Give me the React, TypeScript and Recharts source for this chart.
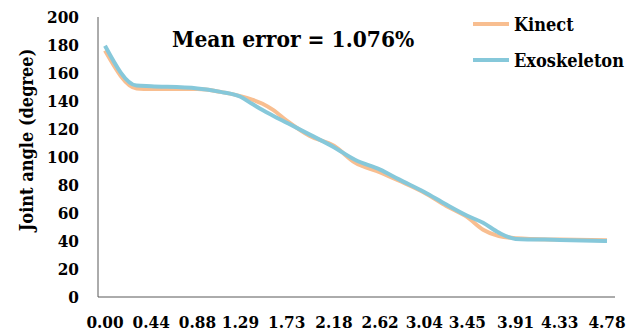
import { LineChart, Line, XAxis, YAxis } from "recharts";

const times = [0, 0.3, 0.44, 0.88, 1.1, 1.29, 1.4, 1.5, 1.6, 1.73, 1.95, 2.18, 2.38, 2.62, 2.8, 3.04, 3.25, 3.45, 3.6, 3.75, 3.91, 4.33, 4.78];
const kinect = [176, 149, 148.5, 148.5, 146.5, 143.5, 141, 138, 133.6, 126, 115, 108, 96, 89, 83, 74.5, 65, 57, 48, 43.5, 42, 41, 40.5];
const exoskeleton = [179.5, 151, 150.5, 149, 146.5, 143, 138, 133.5, 129.5, 124.5, 116, 107, 98, 91, 84, 75, 66, 58, 53, 46, 41.5, 40.8, 40];

const xTicks = [0, 0.44, 0.88, 1.29, 1.73, 2.18, 2.62, 3.04, 3.45, 3.91, 4.33, 4.78];
const yTicks = [0, 20, 40, 60, 80, 100, 120, 140, 160, 180, 200];

const series = [
  { key: "kinect", name: "Kinect", color: "#F8BE90" },
  { key: "exo", name: "Exoskeleton", color: "#86C8DA" },
];

const data = times.map((t, i) => ({ t, kinect: kinect[i], exo: exoskeleton[i] }));

const FONT = "DejaVu Serif Condensed, DejaVu Serif, serif";
const tickStyle = { fontSize: 17, fontWeight: 700, fill: "#000", fontFamily: FONT, fontStretch: "condensed" };

export default function App() {
  return (
    <div style={{ position: "absolute", left: 0, top: 0, width: 641, height: 335, background: "#fff" }}>
      <LineChart width={641} height={335} data={data} margin={{ top: 17, right: 26, bottom: 0, left: 0 }}>
        <XAxis
          dataKey="t"
          type="number"
          domain={[0, 4.78]}
          ticks={xTicks}
          interval={0}
          padding={{ left: 7, right: 8 }}
          tickFormatter={(v: number) => v.toFixed(2)}
          tick={tickStyle}
          tickLine={false}
          tickSize={17}
          tickMargin={2}
          height={38}
          axisLine={{ stroke: "#595959", strokeWidth: 1 }}
        />
        <YAxis
          domain={[0, 200]}
          ticks={yTicks}
          interval={0}
          tick={tickStyle}
          tickLine={false}
          tickSize={17}
          tickMargin={2}
          width={98}
          axisLine={{ stroke: "#595959", strokeWidth: 1 }}
        />
        {series.map((s) => (
          <Line
            key={s.key}
            type="monotone"
            dataKey={s.key}
            name={s.name}
            stroke={s.color}
            strokeWidth={4}
            dot={false}
            isAnimationActive={false}
          />
        ))}
        <text x={172} y={47} fontFamily={FONT} fontStretch="condensed" fontWeight={700} fontSize={22.5} fill="#000">
          Mean error = 1.076%
        </text>
        <text
          x={33}
          y={140}
          transform="rotate(-90 33 140)"
          textAnchor="middle"
          fontFamily={FONT}
          fontStretch="condensed"
          fontWeight={700}
          fontSize={18}
          fill="#000"
        >
          Joint angle (degree)
        </text>
      </LineChart>
      <div
        style={{
          position: "absolute",
          left: 473,
          top: 6,
          fontFamily: FONT,
          fontStretch: "condensed",
          fontWeight: 700,
          fontSize: 18,
          color: "#000",
        }}
      >
        {series.map((s) => (
          <div key={s.key} style={{ display: "flex", alignItems: "center", height: 36 }}>
            <div style={{ width: 36, height: 4, background: s.color, marginRight: 5 }} />
            <span>{s.name}</span>
          </div>
        ))}
      </div>
    </div>
  );
}
